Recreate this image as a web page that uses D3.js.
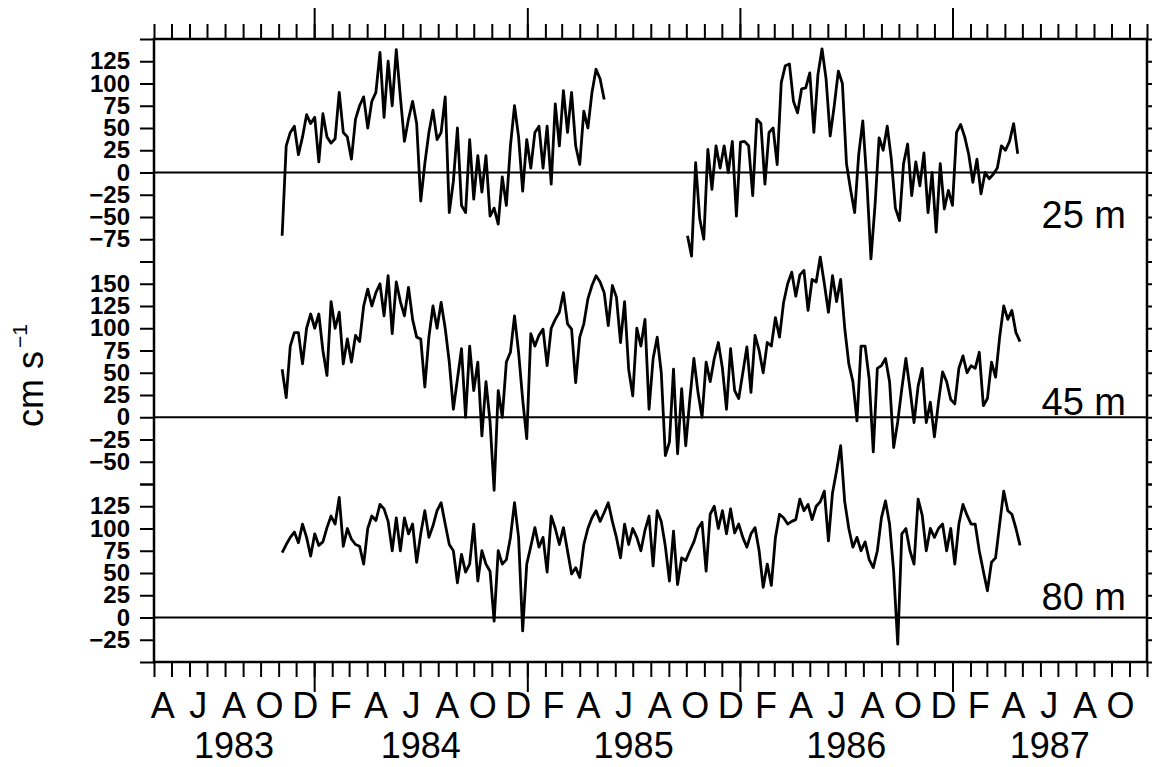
<!DOCTYPE html>
<html>
<head>
<meta charset="utf-8">
<script src="https://cdn.jsdelivr.net/npm/d3@7"></script>
<style>
body { margin: 0; background: #fff; }
svg { display: block; font-family: "Liberation Sans", Arial, sans-serif; }
</style>
</head>
<body>
<div id="chart"></div>
<script>
// weekly readings of current speed (cm/s)
var startDate = "1983-11-07";
var startDate25b = "1985-10-03";
var stepDays = 7;

var speed25a = [-71,30,45,52,20,40,65,55,62,12,66,40,33,38,90,45,40,15,60,75,85,50,80,90,135,62,125,75,138,85,
  35,60,80,55,-32,10,45,70,37,45,85,-45,-10,50,-37,-45,37,-30,19,-22,19,-49,-40,-58,-5,-37,30,75,40,-21,
  37,5,45,52,5,52,-13,77,30,92,45,90,30,9,69,50,90,116,105,82];

var speed25b = [-71,-94,11,-52,-75,26,-19,30,5,30,0,35,-49,34,35,30,-26,60,55,-13,45,50,9,101,120,122,80,67,94,95,
  112,45,110,139,105,41,75,114,100,10,-19,-45,20,58,-10,-97,-37,39,25,52,15,-40,-54,10,32,-26,12,-15,22,-45,
  0,-67,10,-41,-20,-37,45,54,40,20,-11,15,-24,0,-7,-2,5,30,25,35,55,21];

var speed45 = [54,22,80,95,95,60,100,116,100,116,75,47,130,100,118,60,88,62,92,85,125,144,125,140,150,114,159,94,152,130,
  114,146,110,90,88,34,90,125,100,129,100,62,9,43,77,0,80,30,62,-21,40,-5,-82,30,0,62,73,114,73,20,
  -24,94,80,92,99,58,100,110,118,140,105,99,39,90,105,133,148,159,152,140,103,148,135,84,130,54,24,100,80,110,
  9,66,90,50,-43,-28,54,-41,32,-32,20,66,28,0,62,40,66,84,55,9,77,30,21,50,79,28,92,75,50,84,
  80,112,90,129,150,163,136,160,165,120,155,152,180,150,118,159,130,155,100,60,40,-4,80,80,43,-39,55,58,66,40,
  -34,-5,32,66,32,-6,35,55,-6,17,-22,17,51,40,20,15,55,69,50,58,55,73,13,21,62,45,90,125,110,120,95,85];

var speed80 = [73,82,90,96,84,105,90,69,94,81,85,101,114,105,135,80,100,88,82,80,60,100,114,109,127,122,108,75,112,75,
  112,94,105,62,94,120,90,103,120,129,105,82,75,39,71,51,60,105,41,75,60,52,-4,75,60,65,90,129,90,-15,
  60,80,101,79,90,51,114,100,82,101,75,49,56,45,82,100,112,120,108,118,129,108,90,67,105,82,100,90,75,98,
  114,58,120,108,80,41,97,37,67,64,75,85,100,107,52,116,125,100,120,94,122,95,105,90,79,94,101,75,34,60,
  36,90,116,112,105,108,110,133,120,127,110,125,130,142,86,140,165,193,130,100,79,90,75,85,65,56,75,112,131,105,
  52,-30,94,100,75,60,133,115,75,100,90,100,105,75,100,60,105,127,115,105,105,75,52,30,62,67,105,142,120,116,
  100,81];

var depthLabels = ["25 m", "45 m", "80 m"];
var panelDomains = [[-100, 150], [-75, 175], [-50, 150]];
var labelRanges = [[-75, 125], [-50, 150], [-25, 125]];
var monthInitials = ["J","F","M","A","M","J","J","A","S","O","N","D"];
var axisStart = "1983-04-01";
var axisEnd = "1987-12-01";

var width = 1152, height = 767;
var plotLeft = 154, plotRight = 1147, plotTop = 39, plotBottom = 662;

var parse = d3.timeParse("%Y-%m-%d");
var svg = d3.select("#chart").append("svg")
  .attr("width", width)
  .attr("height", height);

var x = d3.scaleTime()
  .domain([parse(axisStart), parse(axisEnd)])
  .range([plotLeft, plotRight]);

// one px-per-unit for all three panels
var totalUnits = d3.sum(panelDomains, function(d) { return d[1] - d[0]; });
var k = (plotBottom - plotTop) / totalUnits;
var yScales = [];
var y0 = plotTop;
panelDomains.forEach(function(d) {
  var h = (d[1] - d[0]) * k;
  yScales.push(d3.scaleLinear().domain(d).range([y0 + h, y0]));
  y0 += h;
});

function series(start, values) {
  var s = parse(start);
  return values.map(function(v, i) {
    return { date: d3.timeDay.offset(s, i * stepDays), value: v };
  });
}

var fmt = function(v) { return v < 0 ? "\u2212" + Math.abs(v) : "" + v; };

// zero lines
yScales.forEach(function(y) {
  svg.append("line")
    .attr("x1", plotLeft).attr("x2", plotRight)
    .attr("y1", y(0)).attr("y2", y(0))
    .attr("stroke", "#000").attr("stroke-width", 2);
});

// left and right axes
yScales.forEach(function(y, i) {
  var dom = panelDomains[i];
  var lr = labelRanges[i];
  var ticks = d3.range(dom[0], dom[1] + 1, 25);
  var gl = svg.append("g")
    .attr("transform", "translate(" + plotLeft + ",0)")
    .call(d3.axisLeft(y).tickValues(ticks).tickSize(14).tickPadding(10)
      .tickFormat(function(v) { return (v >= lr[0] && v <= lr[1]) ? fmt(v) : ""; }));
  gl.select(".domain").remove();
  gl.selectAll("line").attr("stroke-width", 2);
  gl.selectAll("text").filter(function() { return this.textContent === ""; }).remove();
  gl.selectAll("text")
    .attr("font-size", 24).attr("font-weight", "bold")
    .attr("font-family", "Liberation Sans, Arial, sans-serif")
    .attr("fill", "#000");

  var gr = svg.append("g")
    .attr("transform", "translate(" + plotRight + ",0)")
    .call(d3.axisRight(y).tickValues(ticks).tickSize(14).tickFormat(""));
  gr.select(".domain").remove();
  gr.selectAll("text").remove();
  gr.selectAll("line").attr("stroke-width", 2);
});

// month / year ticks on top and bottom
var months = d3.timeMonth.range(x.domain()[0], d3.timeDay.offset(x.domain()[1], 1));
var yearTicks = d3.timeYear.range(x.domain()[0], x.domain()[1]);

function timeAxis(axisFn, ypos, minor, major) {
  var g1 = svg.append("g").attr("transform", "translate(0," + ypos + ")")
    .call(axisFn(x).tickValues(months).tickSize(minor).tickFormat(""));
  var g2 = svg.append("g").attr("transform", "translate(0," + ypos + ")")
    .call(axisFn(x).tickValues(yearTicks).tickSize(major).tickFormat(""));
  [g1, g2].forEach(function(g) {
    g.select(".domain").remove();
    g.selectAll("text").remove();
    g.selectAll("line").attr("stroke-width", 2);
  });
}
timeAxis(d3.axisTop, plotTop, 15, 31);
timeAxis(d3.axisBottom, plotBottom, 15, 30);

// frame
svg.append("rect")
  .attr("x", plotLeft).attr("y", plotTop)
  .attr("width", plotRight - plotLeft).attr("height", plotBottom - plotTop)
  .attr("fill", "none").attr("stroke", "#000").attr("stroke-width", 2.5);

// month letters, every other month from April
var labelMonths = d3.timeMonth.range(x.domain()[0], x.domain()[1], 2);
svg.append("g").selectAll("text")
  .data(labelMonths)
  .join("text")
  .attr("x", function(d) { return (x(d) + x(d3.timeMonth.offset(d, 1))) / 2; })
  .attr("y", 718)
  .attr("text-anchor", "middle")
  .attr("font-size", 36)
  .text(function(d) { return monthInitials[d.getMonth()]; });

// year labels centred on visible part of each year
var years = d3.range(x.domain()[0].getFullYear(), x.domain()[1].getFullYear() + 1);
svg.append("g").selectAll("text")
  .data(years)
  .join("text")
  .attr("x", function(yr) {
    var a = new Date(Math.max(new Date(yr, 0, 1), x.domain()[0]));
    var b = new Date(Math.min(new Date(yr + 1, 0, 1), x.domain()[1]));
    return (x(a) + x(b)) / 2;
  })
  .attr("y", 758)
  .attr("text-anchor", "middle")
  .attr("font-size", 36)
  .text(function(yr) { return yr; });

// data lines
var line = function(y) {
  return d3.line()
    .x(function(d) { return x(d.date); })
    .y(function(d) { return y(d.value); });
};
var paths = [
  { data: series(startDate, speed25a), y: yScales[0] },
  { data: series(startDate25b, speed25b), y: yScales[0] },
  { data: series(startDate, speed45), y: yScales[1] },
  { data: series(startDate, speed80), y: yScales[2] }
];
paths.forEach(function(p) {
  svg.append("path")
    .datum(p.data)
    .attr("fill", "none")
    .attr("stroke", "#000")
    .attr("stroke-width", 2.8)
    .attr("stroke-linejoin", "round")
    .attr("d", line(p.y));
});

// depth labels
var labelY = [228, 415, 610];
depthLabels.forEach(function(t, i) {
  svg.append("text")
    .attr("x", 1126).attr("y", labelY[i])
    .attr("text-anchor", "end")
    .attr("font-size", 38)
    .text(t);
});

// y title
var title = svg.append("text")
  .attr("transform", "translate(43,427) rotate(-90)")
  .attr("font-size", 36)
  .text("cm s");
title.append("tspan")
  .attr("dx", 3).attr("dy", -16)
  .attr("font-size", 21)
  .text("\u22121");
</script>
</body>
</html>
